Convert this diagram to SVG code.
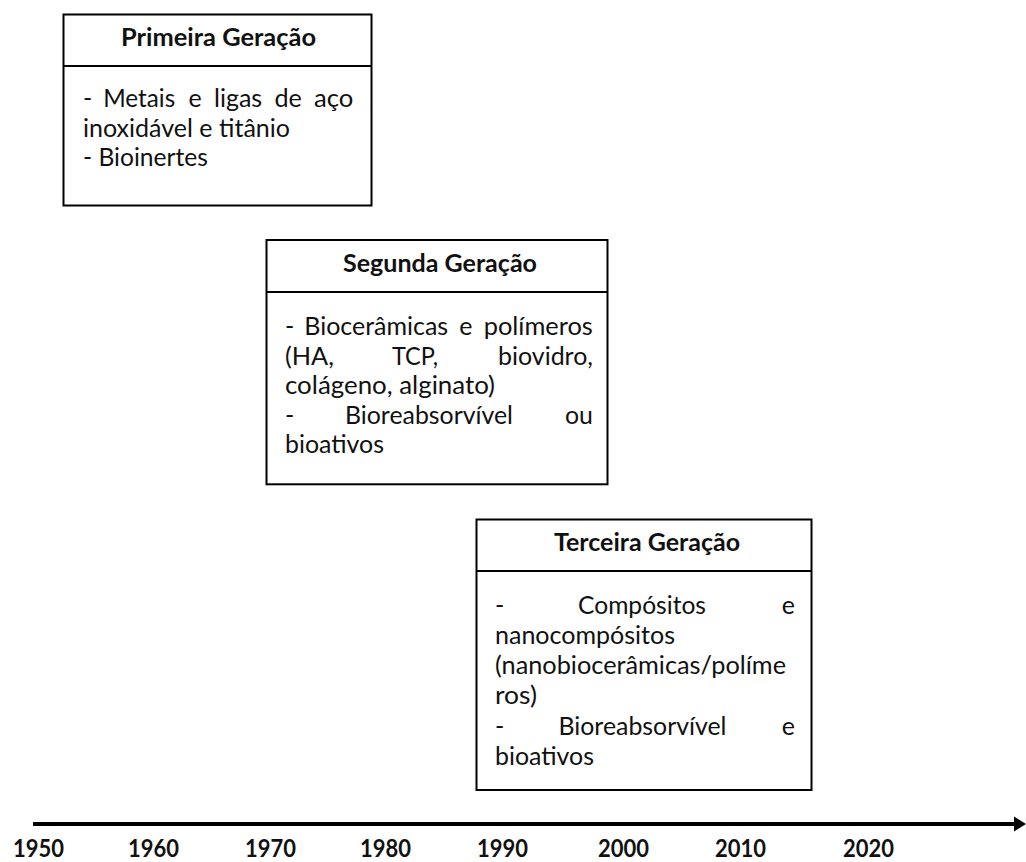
<svg xmlns="http://www.w3.org/2000/svg" width="1026" height="862" viewBox="0 0 1026 862">
<style>
.box{fill:#fff;stroke:#000;stroke-width:2}
.div{stroke:#000;stroke-width:2}
.t{font-family:Lato,"Open Sans","Liberation Sans",sans-serif;font-size:25px;fill:#111}
.h{font-weight:bold;text-anchor:middle}
.y{font-family:Lato,"Liberation Sans",sans-serif;font-weight:bold;font-size:25px;fill:#111}
</style>
<rect width="1026" height="862" fill="#fff"/>
<g id="gen1">
<rect class="box" x="63.5" y="14.5" width="308" height="191"/>
<line class="div" x1="63.5" y1="66" x2="371.5" y2="66"/>
<text class="t h" x="218.5" y="46" textLength="195" lengthAdjust="spacingAndGlyphs">Primeira Geração</text>
<text class="t" y="107"><tspan x="83">-</tspan><tspan x="103.2" textLength="72" lengthAdjust="spacingAndGlyphs">Metais</tspan><tspan x="188.5">e</tspan><tspan x="214" textLength="48.2" lengthAdjust="spacingAndGlyphs">ligas</tspan><tspan x="274.5" textLength="27.4" lengthAdjust="spacingAndGlyphs">de</tspan><tspan x="314" textLength="39.3" lengthAdjust="spacingAndGlyphs">aço</tspan></text>
<text class="t" x="83" y="136.5" textLength="207" lengthAdjust="spacingAndGlyphs">inoxidável e titânio</text>
<text class="t" x="83" y="166" textLength="125" lengthAdjust="spacingAndGlyphs">- Bioinertes</text>
</g>
<g id="gen2">
<rect class="box" x="266.5" y="240" width="341" height="244.3"/>
<line class="div" x1="266.5" y1="292" x2="607.5" y2="292"/>
<text class="t h" x="440" y="272" textLength="194" lengthAdjust="spacingAndGlyphs">Segunda Geração</text>
<text class="t" y="335"><tspan x="285">-</tspan><tspan x="304.3" textLength="143.9" lengthAdjust="spacingAndGlyphs">Biocerâmicas</tspan><tspan x="459.3">e</tspan><tspan x="483.7" textLength="109.2" lengthAdjust="spacingAndGlyphs">polímeros</tspan></text>
<text class="t" y="364.5"><tspan x="285" textLength="49" lengthAdjust="spacingAndGlyphs">(HA,</tspan><tspan x="392" textLength="46" lengthAdjust="spacingAndGlyphs">TCP,</tspan><tspan x="498" textLength="95" lengthAdjust="spacingAndGlyphs">biovidro,</tspan></text>
<text class="t" x="285" y="394" textLength="210" lengthAdjust="spacingAndGlyphs">colágeno, alginato)</text>
<text class="t" y="423.5"><tspan x="285">-</tspan><tspan x="345" textLength="168" lengthAdjust="spacingAndGlyphs">Bioreabsorvível</tspan><tspan x="565" textLength="28" lengthAdjust="spacingAndGlyphs">ou</tspan></text>
<text class="t" x="285" y="453" textLength="99" lengthAdjust="spacingAndGlyphs">bioativos</text>
</g>
<g id="gen3">
<rect class="box" x="476.5" y="519.5" width="335" height="270.5"/>
<line class="div" x1="476.5" y1="571" x2="811.5" y2="571"/>
<text class="t h" x="647" y="551" textLength="186" lengthAdjust="spacingAndGlyphs">Terceira Geração</text>
<text class="t" y="614"><tspan x="495">-</tspan><tspan x="578" textLength="128" lengthAdjust="spacingAndGlyphs">Compósitos</tspan><tspan x="781.7">e</tspan></text>
<text class="t" x="495" y="644" textLength="180" lengthAdjust="spacingAndGlyphs">nanocompósitos</text>
<text class="t" x="495" y="674" textLength="291" lengthAdjust="spacingAndGlyphs">(nanobiocerâmicas/políme</text>
<text class="t" x="495" y="704" textLength="42" lengthAdjust="spacingAndGlyphs">ros)</text>
<text class="t" y="735"><tspan x="495">-</tspan><tspan x="558.5" textLength="168" lengthAdjust="spacingAndGlyphs">Bioreabsorvível</tspan><tspan x="781.7">e</tspan></text>
<text class="t" x="495" y="765" textLength="99" lengthAdjust="spacingAndGlyphs">bioativos</text>
</g>
<g id="timeline">
<line x1="33" y1="824" x2="1017" y2="824" stroke="#000" stroke-width="4"/>
<polygon points="1014,816.5 1026,824 1014,831.5" fill="#000"/>
<text class="y" x="13" y="857" textLength="51" lengthAdjust="spacingAndGlyphs">1950</text>
<text class="y" x="128" y="857" textLength="51" lengthAdjust="spacingAndGlyphs">1960</text>
<text class="y" x="245" y="857" textLength="51" lengthAdjust="spacingAndGlyphs">1970</text>
<text class="y" x="360" y="857" textLength="51" lengthAdjust="spacingAndGlyphs">1980</text>
<text class="y" x="477" y="857" textLength="51" lengthAdjust="spacingAndGlyphs">1990</text>
<text class="y" x="598" y="857" textLength="51" lengthAdjust="spacingAndGlyphs">2000</text>
<text class="y" x="715" y="857" textLength="51" lengthAdjust="spacingAndGlyphs">2010</text>
<text class="y" x="843" y="857" textLength="51" lengthAdjust="spacingAndGlyphs">2020</text>
</g>
</svg>
